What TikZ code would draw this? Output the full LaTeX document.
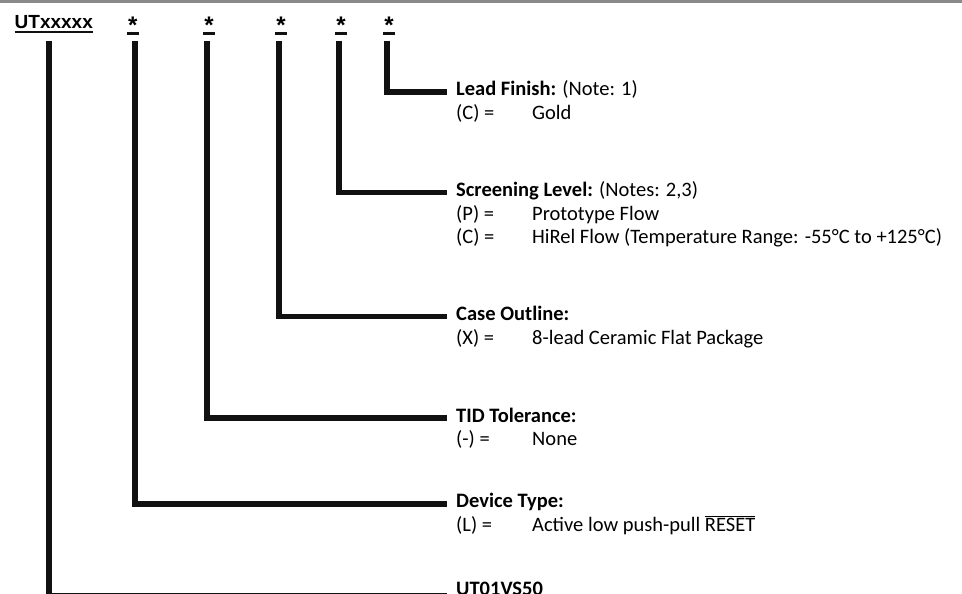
\documentclass[tikz,border=0pt]{standalone}
\usepackage{fontspec}
\setmainfont{Carlito}
\newfontfamily\arialfont{Liberation Sans}
\usepackage{tikz}
\usetikzlibrary{positioning}

\definecolor{rulegray}{HTML}{8A8A8A}
\definecolor{inkblack}{HTML}{111111}

\tikzset{
  conn/.style={line width=5.8pt,inkblack},
  starbar/.style={line width=3.3pt,inkblack},
  star/.style={anchor=base,inner sep=0pt,font=\arialfont\bfseries\fontsize{24}{24}\selectfont},
  heading/.style={anchor=west,inner xsep=9pt,inner ysep=0pt,text height=13pt,text depth=5pt,
    font=\fontsize{20.5}{24}\selectfont},
  row/.style={anchor=base west,inner sep=0pt,font=\fontsize{20.5}{24}\selectfont},
}

\begin{document}
\begin{tikzpicture}[x=1pt,y=1pt]
\clip (0,0) rectangle (962,-594);
\fill[rulegray] (0,0) rectangle (962,-2.7);
%
\node[anchor=base west,inner sep=0pt,font=\arialfont\bfseries\fontsize{19}{19}\selectfont] (ut) at (14.5,-28.3) {UTxxxxx};
\draw[line width=1.7pt,inkblack] ([yshift=-4pt]ut.base west)--([yshift=-4pt]ut.base east);
\node[star] (s1) at (132.7,-34) {*};
\node[star] (s2) at (209,-34) {*};
\node[star] (s3) at (281,-34) {*};
\node[star] (s4) at (341,-34) {*};
\node[star] (s5) at (389,-34) {*};
\draw[starbar] (126.7,-33.3)--(138.7,-33.3);
\draw[starbar] (203.3,-33.3)--(215,-33.3);
\draw[starbar] (275,-33.3)--(287.3,-33.3);
\draw[starbar] (335,-33.3)--(347,-33.3);
\draw[starbar] (383,-33.3)--(395,-33.3);
%
\coordinate (t0) at (49,-40.7);
\coordinate (t1) at (135.3,-40.7);
\coordinate (t2) at (207,-40.7);
\coordinate (t3) at (279,-40.7);
\coordinate (t4) at (339,-40.7);
\coordinate (t5) at (387,-40.7);
%
\node[heading] (lead) at (447,-91.7) {\textbf{Lead Finish:} (Note: 1)};
\node[row] (leadC) at (456,-119.2) {(C) =};
\node[row] (leadCv) at (532,-119.2) {Gold};
%
\node[heading] (screen) at (447,-192.5) {\textbf{Screening Level:} (Notes: 2,3)};
\node[row] (screenP) at (456,-220) {(P) =};
\node[row] (screenPv) at (532,-220) {Prototype Flow};
\node[row] (screenC) at (456,-243.5) {(C) =};
\node[row] (screenCv) at (532,-243.5) {HiRel Flow (Temperature Range: -55°C to +125°C)};
%
\node[heading] (case) at (447,-316.5) {\textbf{Case Outline:}};
\node[row] (caseX) at (456,-344) {(X) =};
\node[row] (caseXv) at (532,-344) {8-lead Ceramic Flat Package};
%
\node[heading] (tid) at (447,-418) {\textbf{TID Tolerance:}};
\node[row] (tidN) at (456,-445.5) {(-) =};
\node[row] (tidNv) at (532,-445.5) {None};
%
\node[heading] (dev) at (447,-503.7) {\textbf{Device Type:}};
\node[row] (devL) at (456,-531.2) {(L) =};
\node[row] (devLv) at (532,-531.2) {Active low push-pull $\overline{\mbox{RESET}}$};
%
\node[heading] (part) at (447,-591) {\textbf{UT01VS50}};
%
\draw[conn] (t5) |- (lead.west);
\draw[conn] (t4) |- (screen.west);
\draw[conn] (t3) |- (case.west);
\draw[conn] (t2) |- (tid.west);
\draw[conn] (t1) |- (dev.west);
\draw[conn] (t0) |- ([yshift=-4.5pt]part.west);
\end{tikzpicture}
\end{document}
